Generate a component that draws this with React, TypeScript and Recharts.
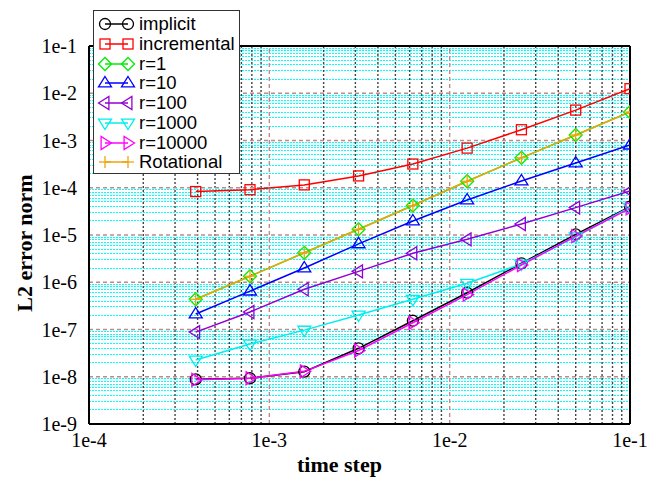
import { LineChart, Line, XAxis, YAxis, ReferenceLine, Legend, Label } from "recharts";

// time steps (dt = 0.1 / 2^k)
const timeSteps = [3.90625e-4, 7.8125e-4, 1.5625e-3, 3.125e-3, 6.25e-3, 1.25e-2, 2.5e-2, 5e-2, 1e-1];

const implicit = [8.8e-9, 9.3e-9, 1.28e-8, 4.0e-8, 1.53e-7, 6.0e-7, 2.52e-6, 1.03e-5, 3.97e-5];
const incremental = [8.3e-5, 9.1e-5, 1.15e-4, 1.78e-4, 3.18e-4, 6.9e-4, 1.69e-3, 4.4e-3, 1.25e-2];
const r1 = [4.36e-7, 1.34e-6, 4.2e-6, 1.32e-5, 4.2e-5, 1.37e-4, 4.3e-4, 1.31e-3, 4.0e-3];
const r10 = [2.13e-7, 6.5e-7, 2.0e-6, 6.5e-6, 1.98e-5, 5.5e-5, 1.39e-4, 3.34e-4, 8.0e-4];
const r100 = [8.8e-8, 2.35e-7, 7.1e-7, 1.7e-6, 4.1e-6, 8.1e-6, 1.71e-5, 3.8e-5, 8.5e-5];
const r1000 = [2.26e-8, 4.93e-8, 9.7e-8, 2.03e-7, 4.36e-7, 9.5e-7, 2.43e-6, 9.2e-6, 3.86e-5];
const r10000 = [8.6e-9, 9.3e-9, 1.3e-8, 3.6e-8, 1.39e-7, 5.46e-7, 2.32e-6, 9.5e-6, 3.67e-5];
const rotational = [4.36e-7, 1.34e-6, 4.2e-6, 1.32e-5, 4.2e-5, 1.37e-4, 4.3e-4, 1.31e-3, 4.0e-3];

const xTicks = [1e-4, 1e-3, 1e-2, 1e-1];
const yTicks = [1e-9, 1e-8, 1e-7, 1e-6, 1e-5, 1e-4, 1e-3, 1e-2, 1e-1];

const series = [
  { key: "implicit", name: "implicit", values: implicit, color: "#000000", shape: "circle" },
  { key: "incremental", name: "incremental", values: incremental, color: "#ff0000", shape: "square" },
  { key: "r1", name: "r=1", values: r1, color: "#00ee00", shape: "diamond" },
  { key: "r10", name: "r=10", values: r10, color: "#0000ff", shape: "triUp" },
  { key: "r100", name: "r=100", values: r100, color: "#9400d3", shape: "triLeft" },
  { key: "r1000", name: "r=1000", values: r1000, color: "#00eeee", shape: "triDown" },
  { key: "r10000", name: "r=10000", values: r10000, color: "#ff00ff", shape: "triRight" },
  { key: "rotational", name: "Rotational", values: rotational, color: "#f0a30a", shape: "plus" },
];

const data = timeSteps.map((dt, i) => {
  const row: Record<string, number> = { dt };
  series.forEach((s) => (row[s.key] = s.values[i]));
  return row;
});

// grid positions
const minorX: number[] = [];
for (let e = -4; e <= -2; e++) for (let k = 2; k <= 9; k++) minorX.push(k * Math.pow(10, e));
const minorY: number[] = [];
for (let e = -9; e <= -2; e++) for (let k = 2; k <= 9; k++) minorY.push(k * Math.pow(10, e));
const majorX = [1e-3, 1e-2];
const majorY = [1e-8, 1e-7, 1e-6, 1e-5, 1e-4, 1e-3, 1e-2];

const fmt = (v: number) => `1e${Math.round(Math.log10(v))}`;

const Marker = ({ shape, cx, cy, color }: any) => {
  if (cx == null || cy == null) return null;
  const sw = 1.3;
  const common = { fill: "none", stroke: color, strokeWidth: sw };
  const t = 6.5;
  switch (shape) {
    case "circle":
      return <circle cx={cx} cy={cy} r={5.5} {...common} />;
    case "square":
      return <rect x={cx - 5} y={cy - 5} width={10} height={10} {...common} />;
    case "diamond":
      return <polygon points={`${cx},${cy - 6.5} ${cx + 6.5},${cy} ${cx},${cy + 6.5} ${cx - 6.5},${cy}`} {...common} />;
    case "triUp":
      return <polygon points={`${cx},${cy - t} ${cx + t},${cy + t * 0.6} ${cx - t},${cy + t * 0.6}`} {...common} />;
    case "triDown":
      return <polygon points={`${cx},${cy + t} ${cx + t},${cy - t * 0.6} ${cx - t},${cy - t * 0.6}`} {...common} />;
    case "triLeft":
      return <polygon points={`${cx - t},${cy} ${cx + t * 0.6},${cy - t} ${cx + t * 0.6},${cy + t}`} {...common} />;
    case "triRight":
      return <polygon points={`${cx + t},${cy} ${cx - t * 0.6},${cy - t} ${cx - t * 0.6},${cy + t}`} {...common} />;
    case "plus":
      return (
        <g stroke={color} strokeWidth={sw}>
          <line x1={cx - 6} x2={cx + 6} y1={cy} y2={cy} />
          <line x1={cx} x2={cx} y1={cy - 6} y2={cy + 6} />
        </g>
      );
  }
  return null;
};

const LegendBox = () => (
  <div
    style={{
      width: 147,
      height: 164,
      boxSizing: "border-box",
      border: "1.5px solid #333",
      background: "#fff",
      padding: "3px 0 0 0",
      fontFamily: "'Liberation Sans', Arial, sans-serif",
      fontSize: 18.5,
      color: "#000",
    }}
  >
    {series.map((s) => (
      <div key={s.key} style={{ display: "flex", alignItems: "center", height: 19.8 }}>
        <svg width={45} height={20} style={{ flex: "none" }}>
          <line x1={11} x2={34} y1={10} y2={10} stroke={s.color} strokeWidth={1.5} />
          <Marker shape={s.shape} cx={11} cy={10} color={s.color} />
          <Marker shape={s.shape} cx={34} cy={10} color={s.color} />
        </svg>
        <span style={{ lineHeight: "20px", whiteSpace: "nowrap" }}>{s.name}</span>
      </div>
    ))}
  </div>
);

const tickStyle = { fontFamily: "'Liberation Serif', 'Times New Roman', serif", fontSize: 20, fill: "#000" };
const titleStyle = { fontFamily: "'Liberation Serif', 'Times New Roman', serif", fontSize: 22, fontWeight: "bold" as const, fill: "#000" };

export default function App() {
  return (
    <div style={{ position: "absolute", left: 0, top: 0, width: 648, height: 480, background: "#fff" }}>
      <LineChart width={648} height={480} data={data} margin={{ top: 46, right: 18, bottom: 6, left: 9 }}>
        {minorY.map((v) => (
          <ReferenceLine key={`my${v}`} y={v} stroke="#00ffff" strokeWidth={1} strokeDasharray="2 1" shapeRendering="crispEdges" zIndex={-10} />
        ))}
        {minorX.map((v) => (
          <ReferenceLine key={`mx${v}`} x={v} stroke="#444" strokeWidth={1.4} strokeDasharray="2 2" zIndex={-9} />
        ))}
        {majorY.map((v) => (
          <ReferenceLine key={`My${v}`} y={v} stroke="#c08a8a" strokeWidth={1.4} strokeDasharray="4 3" zIndex={-5} />
        ))}
        {majorX.map((v) => (
          <ReferenceLine key={`Mx${v}`} x={v} stroke="#c08a8a" strokeWidth={1.4} strokeDasharray="4 3" zIndex={-5} />
        ))}
        <XAxis
          dataKey="dt"
          type="number"
          scale="log"
          domain={[1e-4, 1e-1]}
          allowDataOverflow
          ticks={xTicks}
          tickFormatter={fmt}
          tick={tickStyle}
          tickLine={false}
          tickMargin={3}
          height={50}
          axisLine={{ stroke: "#000", strokeWidth: 2 }}
        >
          <Label
            content={({ viewBox }: any) => (
              <text x={viewBox.x + viewBox.width / 2 - 20} y={viewBox.y + 48} textAnchor="middle" style={titleStyle}>
                time step
              </text>
            )}
          />
        </XAxis>
        <YAxis
          type="number"
          scale="log"
          domain={[1e-9, 1e-1]}
          allowDataOverflow
          ticks={yTicks}
          tickFormatter={fmt}
          tick={tickStyle}
          tickLine={false}
          tickMargin={6}
          width={80}
          axisLine={{ stroke: "#000", strokeWidth: 2 }}
        >
          <Label
            content={({ viewBox }: any) => {
              const x = 32;
              const y = viewBox.y + viewBox.height / 2 + 8;
              return (
                <text x={x} y={y} transform={`rotate(-90 ${x} ${y})`} textAnchor="middle" style={titleStyle}>
                  L2 error norm
                </text>
              );
            }}
          />
        </YAxis>
        <ReferenceLine y={1e-1} stroke="#000" strokeWidth={2} />
        <ReferenceLine x={1e-1} stroke="#000" strokeWidth={2} />
        {series.map((s) => (
          <Line
            key={s.key}
            dataKey={s.key}
            name={s.name}
            stroke={s.color}
            strokeWidth={1.5}
            isAnimationActive={false}
            dot={(p: any) => <Marker key={`${s.key}-${p.index}`} shape={s.shape} cx={p.cx} cy={p.cy} color={s.color} />}
            activeDot={false}
          />
        ))}
        <Legend
          layout="vertical"
          align="center"
          verticalAlign="middle"
          content={<LegendBox />}
          wrapperStyle={{ left: 93, top: 10, width: 147, height: 164 }}
        />
      </LineChart>
    </div>
  );
}
